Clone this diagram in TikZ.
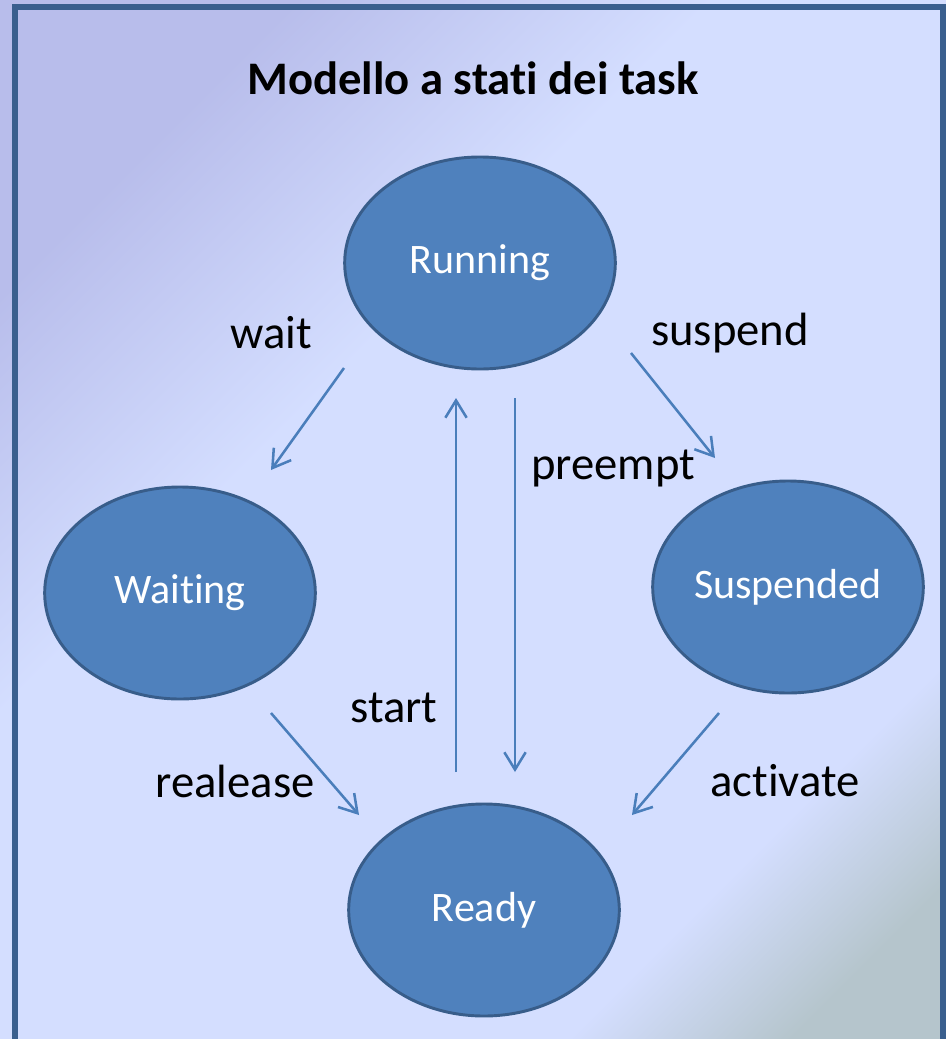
\documentclass[tikz,border=0pt]{standalone}
\usepackage{fontspec}
\setmainfont{Carlito}[Ligatures=NoCommon]
\usetikzlibrary{arrows.meta,shapes.geometric}

\definecolor{lav}{HTML}{B8BDEB}
\definecolor{pale}{HTML}{D4DEFF}
\definecolor{greyblue}{HTML}{B5C5CC}
\definecolor{framec}{HTML}{3A5F8E}
\definecolor{statefill}{HTML}{4F81BD}
\definecolor{stateedge}{HTML}{385D8A}
\definecolor{arrowc}{HTML}{4A7EBB}

% diagonal background wash: lavender corner, pale middle, grey-blue corner
\pgfdeclarehorizontalshading{bgwash}{100bp}{%
  color(0bp)=(lav); color(25bp)=(lav); color(40bp)=(pale);
  color(72bp)=(pale); color(80bp)=(greyblue); color(100bp)=(greyblue)}

\tikzset{
  state/.style={ellipse, fill=statefill, draw=stateedge, line width=2.2pt,
    text=white, font=\fontsize{31.5}{36}\selectfont,
    minimum width=203pt, minimum height=159pt, inner sep=0pt},
  lbl/.style={text=black, font=\fontsize{35}{40}\selectfont, inner sep=0pt},
  ttl/.style={text=black, font=\fontsize{35}{40}\selectfont\bfseries, inner sep=0pt},
  conn/.style={draw=arrowc, line width=1.9pt,
    -{Straight Barb[length=13pt, width=16pt, line width=1.9pt]}},
}

\begin{document}
\begin{tikzpicture}[x=0.75pt, y=-0.75pt]
  \useasboundingbox (0,0) rectangle (946,1039);
  \shade[shading=bgwash, shading angle=-45] (0,0) rectangle (946,1039);
  \draw[framec, line width=4.5pt] (15,1080) -- (15,7) -- (943,7) -- (943,1080);

  \node[ttl] (title) at (473,78) {Modello a stati dei task};

  \node[state] (run) at (480,263) {Running};
  \node[state] (wait) at (180,593) {Waiting};
  \node[state] (susp) at (788,587) {Suspended};
  \node[state] (ready) at (484,910) {Ready};

  \node[lbl] (lwait) at (271,333) {wait};
  \node[lbl] (lsusp) at (730,333) {suspend};
  \node[lbl] (lpre) at (613,468) {preempt};
  \node[lbl] (lstart) at (394,708) {start};
  \node[lbl] (lrel) at (235,781) {realease};
  \node[lbl] (lact) at (785,781) {activate};

  \coordinate (wa) at (344,368);  \coordinate (wb) at (271,470);
  \coordinate (sa) at (631,353);  \coordinate (sb) at (715,458);
  \coordinate (ta) at (456,772);  \coordinate (tb) at (456,398);
  \coordinate (pa) at (515,398);  \coordinate (pb) at (515,772);
  \coordinate (ra) at (271,713);  \coordinate (rb) at (359,815);
  \coordinate (aa) at (719,713);  \coordinate (ab) at (632,815);

  \draw[conn] (wa) -- (wb);
  \draw[conn] (sa) -- (sb);
  \draw[conn] (ta) -- (tb);
  \draw[conn] (pa) -- (pb);
  \draw[conn] (ra) -- (rb);
  \draw[conn] (aa) -- (ab);
\end{tikzpicture}
\end{document}
